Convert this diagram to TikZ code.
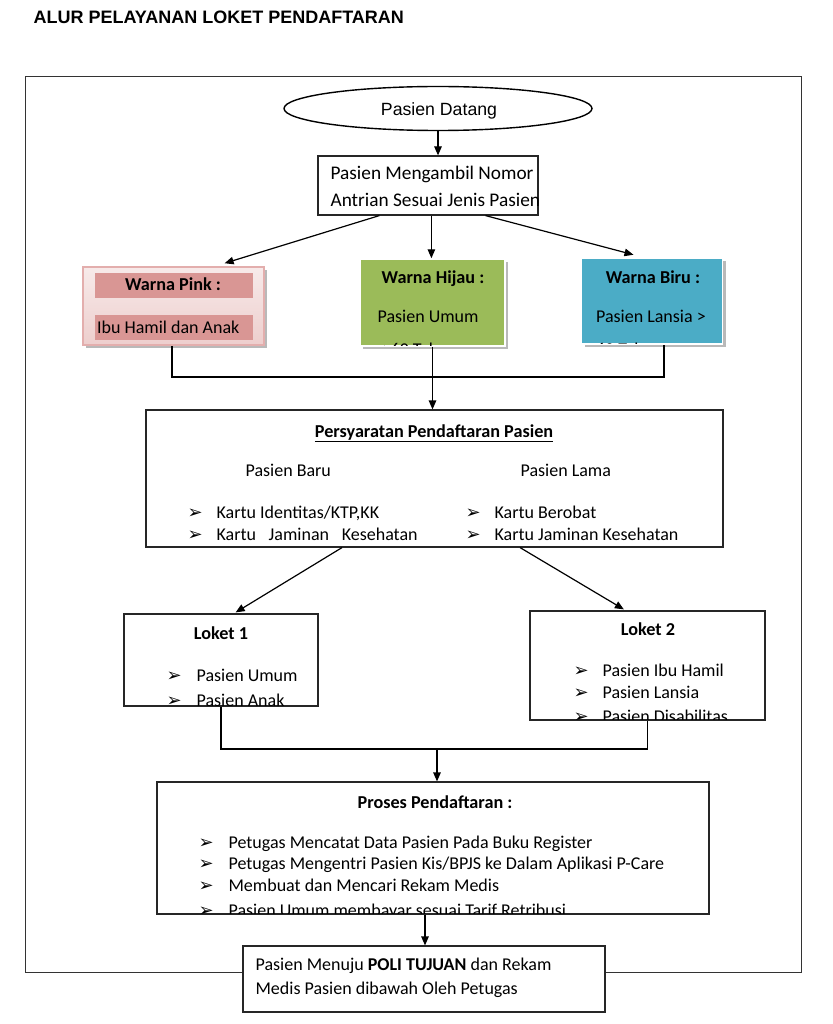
\documentclass[tikz,border=0pt]{standalone}
\usepackage{fontspec}
\setmainfont{Carlito}
\newfontfamily\arialf{Liberation Sans}
\newfontfamily\dejavu{DejaVu Sans}
\usetikzlibrary{arrows.meta,shapes.geometric,calc,shadows}
\definecolor{pinkbar}{HTML}{D99694}
\definecolor{pinkbg}{HTML}{F2DCDB}
\definecolor{pinkline}{HTML}{E3AEAD}
\definecolor{hijau}{HTML}{9BBB59}
\definecolor{biru}{HTML}{4BACC6}
\newcommand{\bul}{{\dejavu\fontsize{18}{18}\selectfont ➢}}
\begin{document}
\begin{tikzpicture}[x=1pt,y=-1pt,
  line width=1.2pt,
  box/.style={draw=black!85, fill=white, rectangle, inner sep=0pt},
  txt/.style={anchor=base west, inner sep=0pt, font=\fontsize{18}{21.5}\selectfont},
  btxt/.style={anchor=base, inner sep=0pt, font=\fontsize{18.2}{21.5}\selectfont\bfseries},
  bl/.style={anchor=base west, inner sep=0pt},
  arr/.style={draw=black, line width=1.2pt, -{Triangle[length=9pt,width=7.5pt]}},
  ln/.style={draw=black, line width=1.2pt},
  shad/.style={drop shadow={fill=gray!55, opacity=1, shadow xshift=3pt, shadow yshift=-3pt}},
  colbox/.style={rectangle, draw=white, line width=1.5pt, inner sep=0pt, shad}
]
\useasboundingbox (0,0) rectangle (832,1024);

% title
\node[anchor=base west, inner sep=0pt, font=\arialf\bfseries\fontsize{18}{20}\selectfont] (title) at (33,24) {ALUR PELAYANAN LOKET PENDAFTARAN};

% outer frame
\node[draw=black!80, line width=1pt, rectangle, minimum width=776pt, minimum height=895pt, inner sep=0pt] (frame) at (413,524.5) {};

% ellipse
\node[draw=black, line width=1.4pt, ellipse, minimum width=308pt, minimum height=44pt, inner sep=0pt, fill=white] (ell) at (438,108.5) {};
\node[anchor=base, inner sep=0pt, font=\arialf\fontsize{17.7}{20}\selectfont] (ellt) at (439,115.5) {Pasien Datang};

% box 2
\node[box, minimum width=220pt, minimum height=59pt] (b2) at (428,185.5) {};
\node[txt, font=\fontsize{19.3}{21.5}\selectfont] (b2a) at (330,180) {Pasien Mengambil Nomor};
\node[txt, font=\fontsize{19.3}{21.5}\selectfont] (b2b) at (330,206.5) {Antrian Sesuai Jenis Pasien};
\draw[arr] (ell.south) -- (ell.south |- b2.north);

% pink
\node[rectangle, top color=pinkbg!60, bottom color=pinkbg!80!pinkbar, draw=pinkline, line width=1.5pt, minimum width=181pt, minimum height=78pt, inner sep=0pt, shad] (pink) at (173.5,306) {};
\node[rectangle, fill=pinkbar, minimum width=158pt, minimum height=25pt, inner sep=0pt] (pb1) at (174,285.5) {};
\node[rectangle, fill=pinkbar, minimum width=158pt, minimum height=25pt, inner sep=0pt] (pb2) at (174,327.5) {};
\node[btxt] (pt1) at (173,290.5) {Warna Pink :};
\node[txt] (pt2) at (96.5,333) {Ibu Hamil dan Anak};

% green
\node[colbox, fill=hijau, minimum width=145pt, minimum height=87pt] (green) at (432.5,302.5) {};
\begin{scope}
\clip ($(green.north west)+(1,1)$) rectangle ($(green.south east)+(-1,-1)$);
\node[btxt] (gt1) at (433,283) {Warna Hijau :};
\node[txt] (gt2) at (377,322) {Pasien Umum};
\node[txt] (gt3) at (377,355) {< 60 Tahun};
\end{scope}

% blue
\node[colbox, fill=biru, minimum width=141pt, minimum height=86pt] (blue) at (652,301) {};
\begin{scope}
\clip ($(blue.north west)+(1,1)$) rectangle ($(blue.south east)+(-1,-1)$);
\node[btxt] (bt1) at (653,283) {Warna Biru :};
\node[txt] (bt2) at (595.5,322) {Pasien Lansia >};
\node[txt] (bt3) at (595.5,355) {60 Tahun};
\end{scope}

% arrows from box 2
\coordinate (a1) at ($(b2.south west)!0.28!(b2.south east)$);
\coordinate (a2) at ($(b2.south west)+(114,0)$);
\coordinate (a3) at ($(b2.south west)!0.76!(b2.south east)$);
\coordinate (e1) at ($(pink.north west)!0.78!(pink.north east)+(0,-3)$);
\coordinate (e3) at ($(blue.north west)!0.37!(blue.north east)+(0,-2.5)$);
\draw[arr] (a1) -- (e1);
\draw[arr] (a2) -- (a2 |- green.north);
\draw[arr] (a3) -- (e3);

% persyaratan
\node[box, minimum width=577pt, minimum height=137pt] (pers) at (434.5,478.5) {};
\node[btxt] (ps0) at (434,437) {\underline{Persyaratan Pendaftaran Pasien}};
\node[txt] (ps1) at (245,476) {Pasien Baru};
\node[txt] (ps2) at (520,476) {Pasien Lama};
\node[bl] (pb1a) at (187,518) {\bul};
\node[txt] (ps3) at (216,518) {Kartu Identitas/KTP,KK};
\node[bl] (pb1b) at (187,540) {\bul};
\node[txt] (ps4) at (216,540) {\hbox to 201pt{Kartu\hfill Jaminan\hfill Kesehatan}};
\node[bl] (pb2a) at (465,518) {\bul};
\node[txt] (ps5) at (494,518) {Kartu Berobat};
\node[bl] (pb2b) at (465,540) {\bul};
\node[txt] (ps6) at (494,540) {Kartu Jaminan Kesehatan};

% connectors colour boxes -> persyaratan
\coordinate (jL) at ($(pink.south)+(-1.5,0)$);
\coordinate (jR) at ($(blue.south)+(12,0)$);
\coordinate (jH) at (0,377);
\draw[ln] (jL) -- (jL |- jH) -- (jR |- jH) -- (jR);
\draw[arr] (green.south) -- (green.south |- pers.north);

% loket 1
\node[box, minimum width=194pt, minimum height=92pt] (l1) at (221,660) {};
\begin{scope}
\clip ($(l1.north west)+(0.6,0.6)$) rectangle ($(l1.south east)+(-0.6,-0.6)$);
\node[btxt] (l1t) at (221,639) {Loket 1};
\node[bl] (l1b1) at (166,681) {\bul};
\node[txt] (l1a) at (196,681) {Pasien Umum};
\node[bl] (l1b2) at (166,706.5) {\bul};
\node[txt] (l1c) at (196,706.5) {Pasien Anak};
\end{scope}
\draw[box, fill=none] (l1.north west) rectangle (l1.south east);

% loket 2
\node[box, minimum width=235pt, minimum height=109pt] (l2) at (647.5,665.5) {};
\begin{scope}
\clip ($(l2.north west)+(0.6,0.6)$) rectangle ($(l2.south east)+(-0.6,-0.6)$);
\node[btxt] (l2t) at (648,635) {Loket 2};
\node[bl] (l2b1) at (573,676.5) {\bul};
\node[txt] (l2a) at (602,676.5) {Pasien Ibu Hamil};
\node[bl] (l2b2) at (573,698) {\bul};
\node[txt] (l2b) at (602,698) {Pasien Lansia};
\node[bl] (l2b3) at (573,722.5) {\bul};
\node[txt] (l2c) at (602,722.5) {Pasien Disabilitas};
\end{scope}
\draw[box, fill=none] (l2.north west) rectangle (l2.south east);

% arrows persyaratan -> loket
\coordinate (s1) at ($(pers.south west)!0.34!(pers.south east)$);
\coordinate (s2) at ($(pers.south west)!0.648!(pers.south east)$);
\coordinate (t1) at ($(l1.north west)!0.575!(l1.north east)+(0,-1)$);
\coordinate (t2) at ($(l2.north west)!0.40!(l2.north east)+(0,-1)$);
\draw[arr] (s1) -- (t1);
\draw[arr] (s2) -- (t2);

% proses
\node[box, minimum width=552pt, minimum height=132pt] (pro) at (433,848) {};
\coordinate (jM) at (437,749);
\draw[ln] (l1.south) -- (l1.south |- jM) -- (l2.south |- jM) -- (l2.south);
\draw[arr] (jM) -- (jM |- pro.north);
\begin{scope}
\clip ($(pro.north west)+(0.6,0.6)$) rectangle ($(pro.south east)+(-0.6,-0.6)$);
\node[btxt] (prt) at (435,808) {Proses Pendaftaran :};
\node[bl] (prb1) at (198,848) {\bul};
\node[txt] (pr1) at (228,848) {Petugas Mencatat Data Pasien Pada Buku Register};
\node[bl] (prb2) at (198,869.5) {\bul};
\node[txt] (pr2) at (228,869.5) {Petugas Mengentri Pasien Kis/BPJS ke Dalam Aplikasi P-Care};
\node[bl] (prb3) at (198,891) {\bul};
\node[txt] (pr3) at (228,891) {Membuat dan Mencari Rekam Medis};
\node[bl] (prb4) at (198,916.5) {\bul};
\node[txt] (pr4) at (228,916.5) {Pasien Umum membayar sesuai Tarif Retribusi};
\end{scope}
\draw[box, fill=none] (pro.north west) rectangle (pro.south east);

% final
\node[box, minimum width=362pt, minimum height=66pt] (fin) at (424,979) {};
\coordinate (pf) at ($(pro.south)+(-8,0)$);
\draw[arr] (pf) -- (pf |- fin.north);
\node[txt] (f1) at (255,970) {Pasien Menuju \textbf{POLI TUJUAN} dan Rekam};
\node[txt] (f2) at (255,994.5) {Medis Pasien dibawah Oleh Petugas};
\end{tikzpicture}
\end{document}
